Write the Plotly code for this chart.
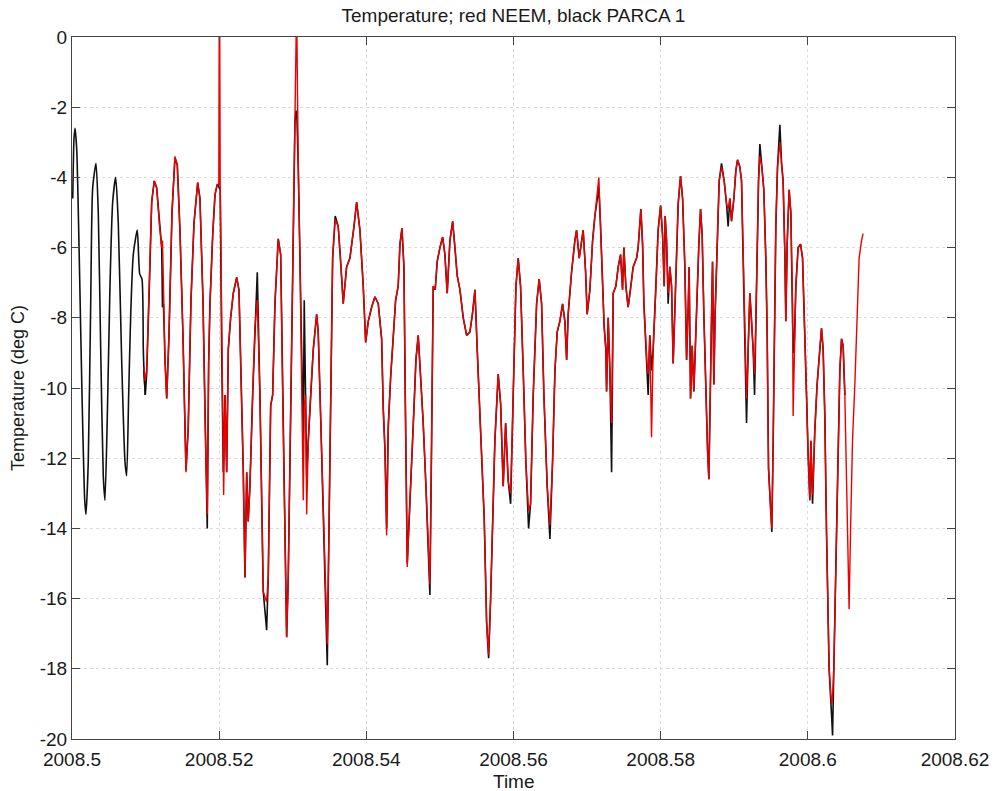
import plotly.graph_objects as go

# PARCA 1 record before the NEEM record begins (decimal year, deg C)
parca_lead_time = [
    2008.50010, 2008.50027, 2008.50041, 2008.50064, 2008.50099, 2008.50136, 2008.50173, 2008.50190, 2008.50221, 2008.50254,
    2008.50281, 2008.50326, 2008.50357, 2008.50390, 2008.50425, 2008.50448, 2008.50480, 2008.50516, 2008.50553, 2008.50594,
    2008.50629, 2008.50675, 2008.50720, 2008.50743, 2008.50770, 2008.50798, 2008.50833, 2008.50887, 2008.50920, 2008.50951,
    2008.50969,
]
parca_lead_temp = [
    -4.6, -2.9, -2.6, -3.2, -6.3, -10.2, -13.2, -13.6, -12.1, -7.6,
    -4.3, -3.6, -5.0, -8.9, -12.5, -13.2, -10.8, -7.1, -4.7, -4.0,
    -5.3, -9.2, -12.1, -12.5, -10.2, -7.9, -6.2, -5.5, -6.75, -6.9,
    -8.9,
]

# Common time base where both stations report (decimal year)
shared_time = [
    2008.50978, 2008.50996, 2008.51015, 2008.51023, 2008.51037, 2008.51050, 2008.51083, 2008.51118, 2008.51151, 2008.51186,
    2008.51219, 2008.51230, 2008.51243, 2008.51264, 2008.51287, 2008.51318, 2008.51359, 2008.51399, 2008.51431, 2008.51467,
    2008.51508, 2008.51549, 2008.51580, 2008.51617, 2008.51658, 2008.51708, 2008.51739, 2008.51780, 2008.51807, 2008.51838,
    2008.51857, 2008.51875, 2008.51912, 2008.51943, 2008.51974, 2008.51995, 2008.52000, 2008.52008, 2008.52014, 2008.52034,
    2008.52056, 2008.52061, 2008.52079, 2008.52102, 2008.52124, 2008.52156, 2008.52192, 2008.52238, 2008.52269, 2008.52306,
    2008.52327, 2008.52351, 2008.52374, 2008.52395, 2008.52418, 2008.52455, 2008.52486, 2008.52518, 2008.52554, 2008.52599,
    2008.52645, 2008.52667, 2008.52700, 2008.52727, 2008.52758, 2008.52803, 2008.52836, 2008.52863, 2008.52894, 2008.52917,
    2008.52939, 2008.52971, 2008.53007, 2008.53030, 2008.53046, 2008.53057, 2008.53075, 2008.53098, 2008.53125, 2008.53143,
    2008.53156, 2008.53175, 2008.53189, 2008.53211, 2008.53243, 2008.53279, 2008.53325, 2008.53346, 2008.53379, 2008.53424,
    2008.53469, 2008.53492, 2008.53515, 2008.53542, 2008.53577, 2008.53618, 2008.53651, 2008.53686, 2008.53732, 2008.53777,
    2008.53832, 2008.53868, 2008.53913, 2008.53958, 2008.53991, 2008.54026, 2008.54072, 2008.54117, 2008.54162, 2008.54208,
    2008.54230, 2008.54253, 2008.54276, 2008.54298, 2008.54330, 2008.54365, 2008.54398, 2008.54433, 2008.54457, 2008.54484,
    2008.54511, 2008.54529, 2008.54548, 2008.54556, 2008.54583, 2008.54616, 2008.54647, 2008.54674, 2008.54705, 2008.54738,
    2008.54773, 2008.54810, 2008.54841, 2008.54864, 2008.54887, 2008.54909, 2008.54936, 2008.54963, 2008.55000, 2008.55037,
    2008.55068, 2008.55099, 2008.55136, 2008.55173, 2008.55204, 2008.55235, 2008.55272, 2008.55317, 2008.55363, 2008.55408,
    2008.55444, 2008.55476, 2008.55507, 2008.55543, 2008.55580, 2008.55602, 2008.55635, 2008.55662, 2008.55689, 2008.55716,
    2008.55747, 2008.55792, 2008.55825, 2008.55860, 2008.55893, 2008.55928, 2008.55961, 2008.55996, 2008.56033, 2008.56064,
    2008.56096, 2008.56132, 2008.56168, 2008.56205, 2008.56232, 2008.56268, 2008.56314, 2008.56349, 2008.56382, 2008.56413,
    2008.56458, 2008.56495, 2008.56531, 2008.56563, 2008.56594, 2008.56630, 2008.56667, 2008.56698, 2008.56722, 2008.56743,
    2008.56789, 2008.56834, 2008.56857, 2008.56893, 2008.56947, 2008.56980, 2008.57001, 2008.57038, 2008.57075, 2008.57106,
    2008.57137, 2008.57160, 2008.57183, 2008.57211, 2008.57232, 2008.57255, 2008.57265, 2008.57287, 2008.57310, 2008.57333,
    2008.57355, 2008.57391, 2008.57423, 2008.57455, 2008.57482, 2008.57500, 2008.57527, 2008.57558, 2008.57591, 2008.57626,
    2008.57673, 2008.57694, 2008.57731, 2008.57754, 2008.57772, 2008.57795, 2008.57817, 2008.57830, 2008.57853, 2008.57876,
    2008.57898, 2008.57935, 2008.57966, 2008.57999, 2008.58026, 2008.58048, 2008.58061, 2008.58080, 2008.58102, 2008.58125,
    2008.58148, 2008.58170, 2008.58193, 2008.58216, 2008.58238, 2008.58270, 2008.58298, 2008.58329, 2008.58352, 2008.58374,
    2008.58387, 2008.58406, 2008.58428, 2008.58451, 2008.58488, 2008.58519, 2008.58542, 2008.58564, 2008.58587, 2008.58614,
    2008.58637, 2008.58655, 2008.58673, 2008.58692, 2008.58705, 2008.58723, 2008.58740, 2008.58768, 2008.58795, 2008.58827,
    2008.58863, 2008.58895, 2008.58917, 2008.58940, 2008.58963, 2008.58995, 2008.59022, 2008.59045, 2008.59076, 2008.59099,
    2008.59121, 2008.59144, 2008.59167, 2008.59189, 2008.59212, 2008.59235, 2008.59257, 2008.59276, 2008.59293, 2008.59311,
    2008.59330, 2008.59348, 2008.59375, 2008.59402, 2008.59429, 2008.59447, 2008.59466, 2008.59493, 2008.59511, 2008.59529,
    2008.59548, 2008.59565, 2008.59588, 2008.59620, 2008.59643, 2008.59664, 2008.59688, 2008.59701, 2008.59719, 2008.59746,
    2008.59769, 2008.59792, 2008.59800, 2008.59814, 2008.59837, 2008.59868, 2008.59901, 2008.59928, 2008.59959, 2008.59982,
    2008.60004, 2008.60027, 2008.60041, 2008.60064, 2008.60095, 2008.60126, 2008.60163, 2008.60186, 2008.60208, 2008.60231,
    2008.60254, 2008.60289, 2008.60322, 2008.60336, 2008.60353, 2008.60380, 2008.60412, 2008.60435, 2008.60458, 2008.60480,
    2008.60503, 2008.60526, 2008.60548, 2008.60561, 2008.60580, 2008.60607, 2008.60639, 2008.60670, 2008.60697, 2008.60730,
    2008.60751,
]

# PARCA 1 temperature on the common time base (None = no data)
parca_temp = [
    -9.5, -10.2, -9.6, -8.9, -8.0, -7.2, -4.7, -4.1, -4.3, -5.3,
    -6.0, -7.7, -7.6, -9.2, -10.3, -8.5, -5.0, -3.45, -3.65, -5.5,
    -8.5, -12.35, -11.1, -7.5, -5.3, -4.15, -4.6, -7.5, -10.8, -14.0,
    -9.3, -7.6, -5.65, -4.5, -4.2, -4.25, -4.3, -4.3, -4.3, -8.9,
    -12.4, -12.0, -10.2, -12.4, -8.9, -8.0, -7.3, -6.85, -7.2, -10.2,
    -12.3, -15.4, -12.4, -13.8, -12.8, -10.2, -8.25, -6.7, -10.2, -15.8,
    -16.9, -15.4, -10.5, -10.2, -7.6, -5.75, -6.2, -10.2, -14.7, -17.1,
    -15.4, -10.8, -5.65, -2.4, -2.1, -2.3, -3.7, -6.3, -10.2, -11.5,
    -7.5, -10.2, -12.5, -11.5, -10.2, -8.9, -7.9, -8.4, -10.8, -14.1,
    -17.9, -14.1, -10.2, -6.3, -5.1, -5.4, -6.4, -7.6, -6.55, -6.3,
    -5.4, -4.7, -5.5, -7.1, -8.7, -8.1, -7.7, -7.4, -7.6, -8.6,
    -10.6, -11.75, -14.0, -11.1, -9.7, -8.6, -7.5, -7.1, -5.9, -5.45,
    -6.55, -10.2, -13.7, -15.0, -13.7, -12.3, -10.6, -9.2, -8.5, -9.7,
    -11.0, -12.8, -14.5, -15.9, -11.5, -7.1, -7.2, -6.4, -6.0, -5.7,
    -6.2, -7.3, -5.8, -5.25, -6.0, -6.8, -7.2, -8.0, -8.5, -8.4,
    -7.85, -7.2, -8.9, -10.8, -12.8, -13.7, -16.7, -17.7, -16.0, -14.1,
    -11.5, -9.6, -10.45, -12.8, -11.0, -12.65, -13.3, -10.2, -7.1, -6.3,
    -7.1, -9.5, -12.1, -14.0, -13.3, -10.2, -7.6, -6.9, -7.6, -10.2,
    -12.8, -14.3, -12.1, -9.5, -8.4, -8.1, -7.6, -8.1, -9.2, -7.9,
    -6.7, -5.8, -5.5, -6.3, -5.5, -6.7, -7.9, -7.2, -5.8, -5.1,
    -4.6, -4.3, -5.4, -7.1, -8.25, -8.9, -10.1, -8.0, -9.5, -12.4,
    -7.3, -7.1, -6.55, -6.2, -7.2, -6.0, -7.1, -7.7, -7.2, -6.55,
    -6.3, -6.0, -4.9, -5.9, -7.6, -8.6, -9.4, -10.2, -8.5, -9.5,
    -8.9, -7.2, -5.5, -4.8, -5.65, -7.1, -5.1, -5.8, -7.6, -6.55,
    -7.1, -9.3, -7.6, -6.0, -4.75, -3.96, -4.6, -6.55, -9.2, -7.7,
    -6.55, -10.3, -8.8, -10.1, -7.6, -5.9, -4.9, -5.65, -7.9, -10.2,
    -11.75, -12.6, -9.5, -7.9, -6.4, -9.9, -7.9, -5.65, -4.1, -3.6,
    -4.1, -4.75, -5.4, -4.6, -5.25, -4.6, -3.8, -3.5, -3.7, -4.1,
    -6.3, -8.9, -11.0, -8.9, -7.3, -8.1, -8.9, -10.2, -8.1, -5.65,
    -4.1, -3.05, -3.7, -4.35, -6.3, -8.4, -12.3, -13.4, -14.1, -11.5,
    -7.6, -5.4, -3.7, -2.5, -3.6, -4.1, -6.2, -8.1, -5.9, -4.35,
    -5.0, -7.6, -9.0, -8.9, -7.1, -6.0, -5.9, -6.3, -8.25, -10.2,
    -11.9, -13.2, -11.5, -13.3, -11.2, -9.9, -8.9, -8.3, -8.9, -10.8,
    -14.1, -18.0, -19.3, -19.9, -18.0, -15.4, -12.1, -9.5, -8.6, -8.8,
    -10.2, None, None, None, None, None, None, None, None, None,
    None,
]

# NEEM temperature on the common time base
neem_temp = [
    -9.4, -9.8, -9.5, -8.9, -8.0, -7.2, -4.7, -4.1, -4.3, -5.3,
    -6.0, -5.8, -7.6, -9.2, -10.3, -8.5, -5.0, -3.4, -3.65, -5.5,
    -8.5, -12.4, -11.1, -7.5, -5.3, -4.15, -4.6, -7.5, -10.8, -13.6,
    -9.3, -7.6, -5.65, -4.5, -4.2, -4.2, 0.0, 0.0, -4.2, -8.9,
    -12.4, -13.05, -10.2, -12.4, -8.9, -8.0, -7.3, -6.85, -7.2, -10.2,
    -12.3, -15.4, -12.4, -13.8, -12.8, -10.2, -8.25, -7.5, -10.2, -15.8,
    -16.1, -15.4, -10.5, -10.2, -7.6, -5.75, -6.2, -10.2, -14.7, -17.1,
    -15.4, -10.8, -5.65, -2.4, 0.0, 0.0, -3.7, -6.3, -10.2, -13.2,
    -10.5, -10.2, -13.6, -11.5, -10.2, -8.9, -7.9, -8.4, -10.8, -14.1,
    -17.3, -14.1, -10.2, -6.3, -5.2, -5.4, -6.4, -7.6, -6.55, -6.3,
    -5.4, -4.7, -5.5, -7.1, -8.7, -8.1, -7.7, -7.4, -7.6, -8.6,
    -10.6, -11.75, -14.2, -11.1, -9.7, -8.6, -7.5, -7.1, -5.9, -5.45,
    -6.55, -10.2, -13.7, -15.1, -13.7, -12.3, -10.6, -9.2, -8.5, -9.7,
    -11.0, -12.8, -14.5, -15.6, -11.5, -7.1, -7.2, -6.4, -6.0, -5.7,
    -6.2, -7.3, -5.8, -5.25, -6.0, -6.8, -7.2, -8.0, -8.5, -8.4,
    -7.85, -7.2, -8.9, -10.8, -12.8, -13.7, -16.7, -17.6, -16.0, -14.1,
    -11.5, -9.6, -10.45, -12.8, -11.0, -12.65, -13.0, -10.2, -7.1, -6.3,
    -7.1, -9.5, -12.1, -13.5, -13.3, -10.2, -7.6, -6.9, -7.6, -10.2,
    -12.8, -13.9, -12.1, -9.5, -8.4, -8.1, -7.6, -8.1, -9.2, -7.9,
    -6.7, -5.8, -5.5, -6.3, -5.5, -6.7, -7.9, -7.2, -5.8, -5.1,
    -4.5, -4.0, -5.4, -7.1, -8.25, -8.9, -10.1, -8.0, -9.5, -11.0,
    -7.3, -7.1, -6.55, -6.2, -7.2, -6.0, -7.1, -7.7, -7.2, -6.55,
    -6.3, -6.0, -4.9, -5.9, -7.6, -8.6, -9.4, -9.6, -8.5, -11.4,
    -8.9, -7.2, -5.5, -4.8, -5.65, -7.1, -5.1, -5.8, -7.3, -6.55,
    -7.1, -9.3, -7.6, -6.0, -4.75, -3.96, -4.6, -6.55, -9.2, -7.7,
    -6.55, -10.3, -8.8, -10.1, -7.6, -5.9, -4.9, -5.65, -7.9, -10.2,
    -11.75, -12.6, -9.5, -7.9, -6.4, -9.9, -7.9, -5.65, -4.1, -3.7,
    -4.1, -4.75, -4.9, -4.6, -5.25, -4.6, -3.8, -3.5, -3.7, -4.1,
    -6.3, -8.9, -10.3, -8.9, -7.3, -8.1, -8.9, -9.6, -8.1, -5.65,
    -4.1, -3.4, -3.7, -4.35, -6.3, -8.4, -12.3, -13.4, -14.0, -11.5,
    -7.6, -5.4, -3.7, -3.0, -3.6, -4.1, -6.2, -8.1, -5.9, -4.35,
    -5.0, -7.6, -10.8, -8.9, -7.1, -6.0, -5.9, -6.3, -8.25, -10.2,
    -11.9, -13.2, -11.5, -13.05, -11.2, -9.9, -8.9, -8.3, -8.9, -10.8,
    -14.1, -18.0, -19.0, -18.8, -18.0, -15.4, -12.1, -9.5, -8.6, -8.8,
    -10.2, -12.8, -15.1, -16.3, -14.1, -11.5, -9.9, -7.9, -6.3, -5.8,
    -5.6,
]

assert len(shared_time) == len(parca_temp) == len(neem_temp)

x_ticks = [2008.5, 2008.52, 2008.54, 2008.56, 2008.58, 2008.6, 2008.62]
x_tick_labels = ["2008.5", "2008.52", "2008.54", "2008.56", "2008.58", "2008.6", "2008.62"]
y_ticks = [0, -2, -4, -6, -8, -10, -12, -14, -16, -18, -20]
y_tick_labels = ["0", "-2", "-4", "-6", "-8", "-10", "-12", "-14", "-16", "-18", "-20"]

FONT = "Liberation Sans, Arial, Helvetica, sans-serif"
INK = "#1a1a1a"

fig = go.Figure()

# black: PARCA 1 (drawn first, underneath); the early stretch is smooth diurnal swings
fig.add_trace(go.Scatter(
    x=parca_lead_time + shared_time[:2],
    y=parca_lead_temp + parca_temp[:2],
    mode="lines", line=dict(color="#111111", width=1.6, shape="spline", smoothing=0.6),
    hoverinfo="skip",
))
fig.add_trace(go.Scatter(
    x=shared_time, y=parca_temp,
    mode="lines", line=dict(color="#111111", width=1.6),
    connectgaps=False, hoverinfo="skip",
))
# red: NEEM
fig.add_trace(go.Scatter(
    x=shared_time, y=neem_temp,
    mode="lines", line=dict(color="#ee0000", width=1.4),
    hoverinfo="skip",
))

axis_common = dict(
    showline=True, linecolor="#444444", linewidth=1, mirror="ticks",
    ticks="inside", ticklen=8, tickwidth=1, tickcolor="#444444",
    showgrid=True, gridcolor="#dcdcdc", gridwidth=1, griddash="dot",
    zeroline=False, automargin=False,
    tickfont=dict(family=FONT, size=19, color=INK),
)

fig.update_xaxes(
    range=[2008.5, 2008.62], tickmode="array", tickvals=x_ticks, ticktext=x_tick_labels,
    ticklabelstandoff=3,
    **axis_common,
)
fig.update_yaxes(
    range=[-20, 0], tickmode="array", tickvals=y_ticks, ticktext=y_tick_labels,
    **axis_common,
)

PLOT_TOP, PLOT_BOTTOM, PLOT_LEFT, PLOT_RIGHT = 37, 739, 72, 955
plot_h = PLOT_BOTTOM - PLOT_TOP
plot_w = PLOT_RIGHT - PLOT_LEFT

# axis titles
fig.add_annotation(
    text="Time", xref="paper", yref="paper",
    x=0.5, y=-(781 - PLOT_BOTTOM) / plot_h, xanchor="center", yanchor="middle",
    showarrow=False, font=dict(family=FONT, size=19, color=INK),
)
fig.add_annotation(
    text="Temperature (deg C)", xref="paper", yref="paper",
    x=-(PLOT_LEFT - 18) / plot_w, y=0.5, xanchor="center", yanchor="middle",
    textangle=-90, showarrow=False, font=dict(family=FONT, size=18, color=INK),
)

fig.update_layout(
    width=995, height=791,
    margin=dict(l=PLOT_LEFT, r=995 - PLOT_RIGHT, t=PLOT_TOP, b=791 - PLOT_BOTTOM),
    paper_bgcolor="white", plot_bgcolor="white",
    showlegend=False,
    title=dict(
        text="Temperature; red NEEM, black PARCA 1",
        font=dict(family=FONT, size=19, color=INK),
        x=0.5, xref="paper", xanchor="center",
        y=1 - 15 / 791, yref="container", yanchor="middle",
    ),
)

fig.write_html("out.html")
